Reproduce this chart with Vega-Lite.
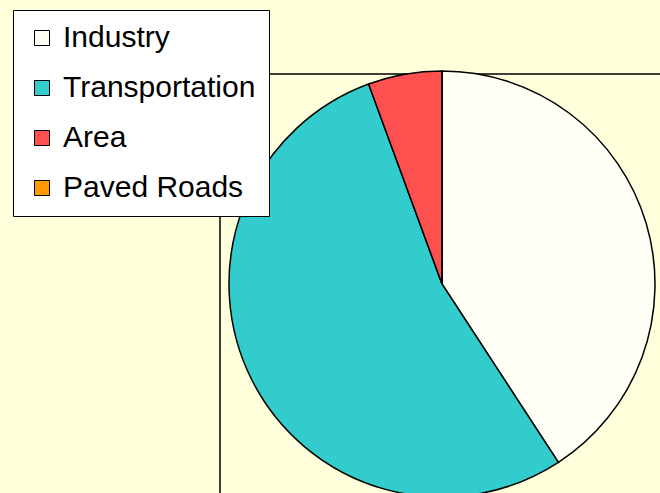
{
  "$schema": "https://vega.github.io/schema/vega-lite/v6.json",
  "width": 444,
  "height": 420,
  "autosize": {"type": "none"},
  "padding": {"left": 220, "top": 74, "right": 0, "bottom": 0},
  "background": "#FFFFDC",
  "config": {
    "view": {"stroke": null},
    "font": "Liberation Sans"
  },
  "layer": [
    {
      "data": {"values": [{"frame": "plot area"}]},
      "mark": {"type": "rect", "fill": "#FFFFDC", "stroke": "#000000", "strokeWidth": 1.5},
      "encoding": {}
    },
    {
      "data": {
        "values": [
          {"category": "Industry", "value": 40.8, "order": 1},
          {"category": "Transportation", "value": 53.6, "order": 2},
          {"category": "Area", "value": 5.6, "order": 3},
          {"category": "Paved Roads", "value": 0, "order": 4}
        ]
      },
      "mark": {"type": "arc", "outerRadius": 213, "stroke": "#000000", "strokeWidth": 1.5},
      "encoding": {
        "theta": {"field": "value", "type": "quantitative", "stack": true},
        "order": {"field": "order", "type": "quantitative"},
        "color": {
          "field": "category",
          "type": "nominal",
          "sort": null,
          "scale": {
            "domain": ["Industry", "Transportation", "Area", "Paved Roads"],
            "range": ["#FFFFF5", "#33CCCC", "#FF5050", "#FF9900"]
          },
          "legend": {
            "title": null,
            "orient": "none",
            "legendX": -207,
            "legendY": -64,
            "fillColor": "#FFFFFF",
            "strokeColor": "#000000",
            "padding": 13,
            "symbolOffset": 1,
            "symbolType": "square",
            "symbolSize": 225,
            "symbolStrokeColor": "#000000",
            "symbolStrokeWidth": 1,
            "labelFontSize": 30,
            "labelFont": "Liberation Sans",
            "labelColor": "#000000",
            "labelOffset": 6,
            "rowPadding": 20,
            "labelLimit": 400
          }
        }
      }
    }
  ]
}
